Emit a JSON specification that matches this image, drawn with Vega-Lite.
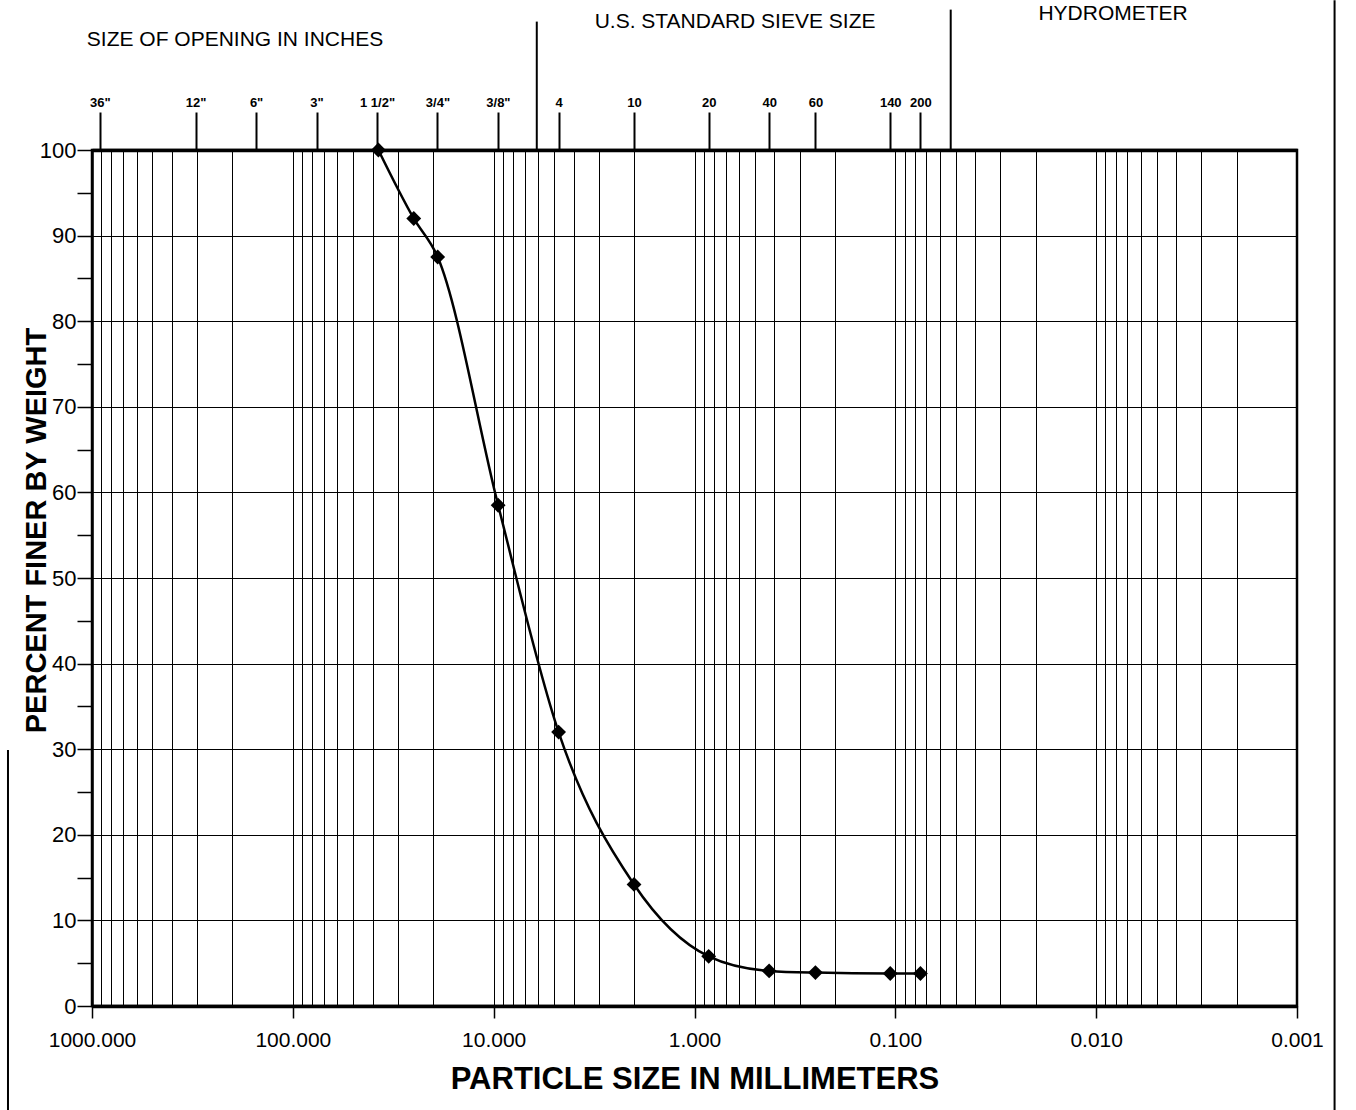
{
  "$schema": "https://vega.github.io/schema/vega-lite/v6.json",
  "width": 1205,
  "height": 856,
  "autosize": "none",
  "padding": {"left": 92, "top": 150, "right": 59, "bottom": 104},
  "background": "white",
  "config": {
    "font": "Liberation Sans",
    "view": {"stroke": "black", "strokeWidth": 2.5}
  },
  "datasets": {
    "points": [
      {"size": 37.5, "pct": 100},
      {"size": 25, "pct": 92},
      {"size": 19, "pct": 87.5},
      {"size": 9.5, "pct": 58.5},
      {"size": 4.75, "pct": 32},
      {"size": 2, "pct": 14.2},
      {"size": 0.85, "pct": 5.8},
      {"size": 0.425, "pct": 4.1},
      {"size": 0.25, "pct": 3.9},
      {"size": 0.106, "pct": 3.8},
      {"size": 0.075, "pct": 3.8}
    ],
    "headers": [
      {"x": 194, "y": 112.85, "text": "SIZE OF OPENING IN INCHES"},
      {"x": 0.628, "y": 114.95, "text": "U.S. STANDARD SIEVE SIZE"},
      {"x": 0.00824, "y": 115.9, "text": "HYDROMETER"}
    ],
    "dividers": [
      {"x": 6.1, "y": 100, "y2": 115},
      {"x": 0.053, "y": 100, "y2": 116.4},
      {"x": 0.00065, "y": 117.5, "y2": -12.9},
      {"x": 2620, "y": 29.9, "y2": -12.9}
    ]
  },
  "resolve": {"axis": {"x": "independent", "y": "independent"}},
  "layer": [
    {
      "data": {"name": "points"},
      "mark": {"type": "line", "interpolate": "monotone", "color": "black", "strokeWidth": 2.5},
      "encoding": {
        "x": {
          "field": "size",
          "type": "quantitative",
          "scale": {"type": "log", "domain": [1000, 0.001], "nice": false},
          "axis": {
            "orient": "bottom",
            "values": [1000, 900, 800, 700, 600, 500, 400, 300, 200, 100, 90, 80, 70, 60, 50, 40, 30, 20, 10, 9, 8, 7, 6, 5, 4, 3, 2, 1, 0.9, 0.8, 0.7, 0.6, 0.5, 0.4, 0.3, 0.2, 0.1, 0.09, 0.08, 0.07, 0.06, 0.05, 0.04, 0.03, 0.02, 0.01, 0.009, 0.008, 0.007, 0.006, 0.005, 0.004, 0.003, 0.002, 0.001],
            "labelExpr": "abs(log(datum.value)/LN10 - round(log(datum.value)/LN10)) < 0.000001 ? format(datum.value, '.3f') : ''",
            "tickOpacity": {"condition": {"test": "abs(log(datum.value)/LN10 - round(log(datum.value)/LN10)) < 0.000001", "value": 1}, "value": 0},
            "grid": true,
            "gridColor": "black",
            "gridWidth": 1,
            "gridOpacity": 1,
            "tickColor": "black",
            "tickSize": 12,
            "tickWidth": 1.5,
            "domainColor": "black",
            "domainWidth": 3.5,
            "labelFontSize": 21,
            "labelColor": "black",
            "labelPadding": 11,
            "labelOverlap": false,
            "labelFlush": false,
            "labelBound": false,
            "title": "PARTICLE SIZE IN MILLIMETERS",
            "titleFontSize": 31,
            "titleFontWeight": "bold",
            "titleColor": "black",
            "titlePadding": 14
          }
        },
        "y": {
          "field": "pct",
          "type": "quantitative",
          "scale": {"domain": [0, 100], "nice": false},
          "axis": {
            "values": [0, 5, 10, 15, 20, 25, 30, 35, 40, 45, 50, 55, 60, 65, 70, 75, 80, 85, 90, 95, 100],
            "labelExpr": "datum.value % 10 === 0 ? datum.label : ''",
            "grid": true,
            "gridColor": "black",
            "gridWidth": 1,
            "gridOpacity": {"condition": {"test": "datum.value % 10 !== 0", "value": 0}, "value": 1},
            "tickColor": "black",
            "tickSize": 15,
            "tickWidth": 1.5,
            "domainColor": "black",
            "domainWidth": 2.5,
            "labelFontSize": 22,
            "labelColor": "black",
            "labelPadding": 1,
            "labelOverlap": false,
            "title": "PERCENT FINER BY WEIGHT",
            "titleFontSize": 29,
            "titleFontWeight": "bold",
            "titleColor": "black",
            "titleAngle": 270,
            "titleAlign": "center",
            "titleBaseline": "middle",
            "titleX": -56,
            "titleY": 380
          }
        },
        "order": {"field": "size", "sort": "descending"}
      }
    },
    {
      "data": {"name": "points"},
      "mark": {"type": "point", "shape": "diamond", "filled": true, "color": "black", "size": 220, "opacity": 1},
      "encoding": {
        "x": {
          "field": "size",
          "type": "quantitative",
          "scale": {"type": "log", "domain": [1000, 0.001], "nice": false},
          "axis": {
            "orient": "top",
            "values": [914.4, 304.8, 152.4, 76.2, 38.1, 19.05, 9.525, 4.75, 2, 0.85, 0.425, 0.25, 0.106, 0.075],
            "labelExpr": "datum.value > 900 ? '36\"' : datum.value > 300 ? '12\"' : datum.value > 150 ? '6\"' : datum.value > 70 ? '3\"' : datum.value > 30 ? '1 1/2\"' : datum.value > 15 ? '3/4\"' : datum.value > 9 ? '3/8\"' : datum.value > 4 ? '4' : datum.value > 1.5 ? '10' : datum.value > 0.8 ? '20' : datum.value > 0.4 ? '40' : datum.value > 0.2 ? '60' : datum.value > 0.1 ? '140' : '200'",
            "grid": false,
            "domain": true,
            "domainColor": "black",
            "domainWidth": 3.5,
            "tickColor": "black",
            "tickSize": 38,
            "tickWidth": 2,
            "labelFontSize": 13,
            "labelFontWeight": "bold",
            "labelColor": "black",
            "labelPadding": 3,
            "labelOverlap": false,
            "labelFlush": false,
            "labelBound": false,
            "title": null
          }
        },
        "y": {
          "field": "pct",
          "type": "quantitative",
          "scale": {"domain": [0, 100], "nice": false},
          "axis": null
        }
      }
    },
    {
      "data": {"name": "headers"},
      "mark": {"type": "text", "fontSize": 21, "color": "black", "align": "center", "baseline": "middle"},
      "encoding": {
        "x": {"field": "x", "type": "quantitative", "scale": {"type": "log", "domain": [1000, 0.001], "nice": false}, "axis": null},
        "y": {"field": "y", "type": "quantitative", "scale": {"domain": [0, 100], "nice": false}, "axis": null},
        "text": {"field": "text"}
      }
    },
    {
      "data": {"name": "dividers"},
      "mark": {"type": "rule", "color": "black", "strokeWidth": 2},
      "encoding": {
        "x": {"field": "x", "type": "quantitative", "scale": {"type": "log", "domain": [1000, 0.001], "nice": false}, "axis": null},
        "y": {"field": "y", "type": "quantitative", "scale": {"domain": [0, 100], "nice": false}, "axis": null},
        "y2": {"field": "y2"}
      }
    }
  ]
}
